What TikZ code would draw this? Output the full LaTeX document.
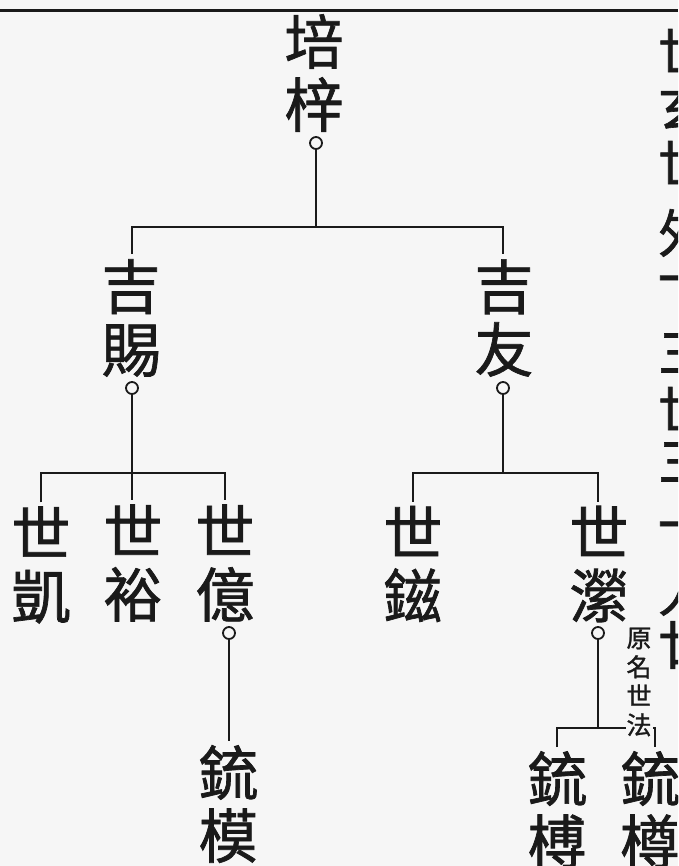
\documentclass[tikz,border=0pt]{standalone}
\usepackage{fontspec}
\newfontfamily\cjk[FakeBold=1.2]{Noto Sans CJK TC}
\definecolor{paper}{HTML}{F6F6F6}
\definecolor{ink}{HTML}{1A1A1A}
\tikzset{
  person/.style={font=\cjk\fontsize{59}{63}\selectfont, align=center, inner sep=0pt, text=ink},
  sidechar/.style={font=\cjk\fontsize{52}{56}\selectfont, inner sep=0pt, text=ink},
  remark/.style={font=\cjk\fontsize{25}{29}\selectfont, align=center, inner sep=1pt, text=ink, fill=paper},
  knot/.style={circle, draw=ink, line width=1.8pt, minimum size=12pt, inner sep=0pt, fill=paper},
  link/.style={draw=ink, line width=2pt},
}
\begin{document}
\begin{tikzpicture}[x=1pt,y=-1pt]
\fill[paper] (0,0) rectangle (678,866);
\useasboundingbox (0,0) rectangle (678,866);
\clip (0,0) rectangle (678,866);
\draw[ink, line width=3pt] (0,11) -- (678,11);

% generation 1
\node[person] (n0) at (314,73) {培\\梓};
\node[knot] (o0) at (316,143) {};
% generation 2
\node[person] (a1) at (131,318) {吉\\賜};
\node[knot] (oa1) at (132,388) {};
\node[person] (a2) at (504,318) {吉\\友};
\node[knot] (oa2) at (503,388) {};
% generation 3
\node[person] (b1) at (41,565) {世\\凱};
\node[person] (b2) at (133,563) {世\\裕};
\node[person] (b3) at (225,563) {世\\億};
\node[knot] (ob3) at (229,633) {};
\node[person] (b4) at (413,564) {世\\鎡};
\node[person] (b5) at (599,564) {世\\瀠};
\node[knot] (ob5) at (598,633) {};
% generation 4
\node[person] (c1) at (228,804) {鋶\\模};
\node[person] (c2) at (557,810) {鋶\\榑};
\node[person] (c3) at (650,810) {鋶\\樽};

% junctions
\coordinate (j0) at (316,227);
\coordinate (j1) at (132,473);
\coordinate (j2) at (503,473);
\coordinate (j3) at (598,728);

\draw[link] (o0.south) -- (j0);
\draw[link] ([yshift=5pt]a1.north -| oa1) |- (j0) -| ([yshift=5pt]a2.north -| oa2);
\draw[link] (oa1.south) -- (j1);
\draw[link] ([yshift=4pt]b1.north) |- (j1) -| ([yshift=4pt]b3.north);
\draw[link] (j1) -- ([yshift=4pt]b2.north -| j1);
\draw[link] (ob3.south) -- ([yshift=4pt]c1.north -| ob3);
\draw[link] (oa2.south) -- (j2);
\draw[link] ([yshift=4pt]b4.north) |- (j2) -| ([yshift=4pt]b5.north -| ob5);
\draw[link] (ob5.south) -- (j3);
\draw[link] ([yshift=4pt]c2.north) |- (j3) -| ([xshift=5pt,yshift=4pt]c3.north);

\node[remark] (nt) at (639,682) {原\\名\\世\\法};

% neighbouring column, cut by the page edge
\node[sidechar] (r1) at (684,50) {世};
\node[sidechar] (r2) at (684,107) {玄};
\node[sidechar] (r3) at (684,162) {世};
\node[sidechar] (r4) at (684,233) {外};
\node[sidechar] (r5) at (684,287) {一};
\node[sidechar] (r6) at (684,353) {三};
\node[sidechar] (r7) at (684,408) {世};
\node[sidechar] (r8) at (684,462) {三};
\node[sidechar] (r9) at (684,533) {一};
\node[sidechar] (r10) at (684,592) {人};
\node[sidechar] (r11) at (684,645) {廿};
\end{tikzpicture}
\end{document}
